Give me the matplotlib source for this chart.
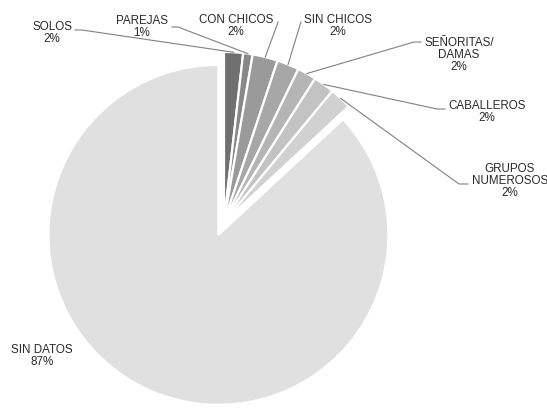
#! /usr/bin/env python

import numpy as np
import matplotlib.pyplot as plt

# share of visits by type of group
categories = ['SOLOS', 'PAREJAS', 'CON CHICOS', 'SIN CHICOS',
              'SEÑORITAS/\nDAMAS', 'CABALLEROS', 'GRUPOS\nNUMEROSOS', 'SIN DATOS']
values = [1.8, 0.9, 2.4, 2.1, 1.8, 2.0, 2.1, 86.9]
colors = ['#707070', '#888888', '#9a9a9a', '#a7a7a7',
          '#b5b5b5', '#c3c3c3', '#d1d1d1', '#e0e0e0']

W, H = 547, 410
# label centre (x, y from top) and leader line start (from top)
label_pos = [(52, 33), (142, 27), (236, 26), (338, 26),
             (459, 55), (487, 112), (510, 181), (42, 356)]
leader_start = [[(75, 31), (82, 31)], [(172, 28), (178, 28)],
                [(278, 23), (277, 26)], [(301, 23), (300, 26)],
                [(421, 43), (414, 43)], [(445, 110), (437, 110)],
                [(468, 185), (459, 185)], None]

center = (224, H - 223)
radius = 170

fig = plt.figure(figsize=(W / 100, H / 100), dpi=100)
ax = fig.add_axes([0, 0, 1, 1])

# explode is in data units here (pixels)
explode = [0] * (len(values) - 1) + [14]
wedges, _ = ax.pie(values, colors=colors, startangle=90, counterclock=False,
                   center=center, radius=radius, explode=explode,
                   wedgeprops=dict(edgecolor='white', linewidth=1.6))

ax.set_xlim(0, W)
ax.set_ylim(0, H)
ax.set_aspect('equal')
ax.axis('off')

total = sum(values)
for i, (w, name) in enumerate(zip(wedges, categories)):
    pct = int(round(values[i] / total * 100))
    lx, ly = label_pos[i]
    ax.text(lx, H - ly, f'{name}\n{pct}%', ha='center', va='center',
            fontsize=8.4, family='Liberation Sans', color='#2a2a2a',
            linespacing=1.05)
    if leader_start[i] is None:
        continue
    ang = np.deg2rad((w.theta1 + w.theta2) / 2)
    ax_x = center[0] + radius * np.cos(ang)
    ax_y = center[1] + radius * np.sin(ang)
    xs = [p[0] for p in leader_start[i]] + [ax_x]
    ys = [H - p[1] for p in leader_start[i]] + [ax_y]
    ax.plot(xs, ys, color='#808080', lw=0.8)

plt.savefig('out.png', dpi=100)
